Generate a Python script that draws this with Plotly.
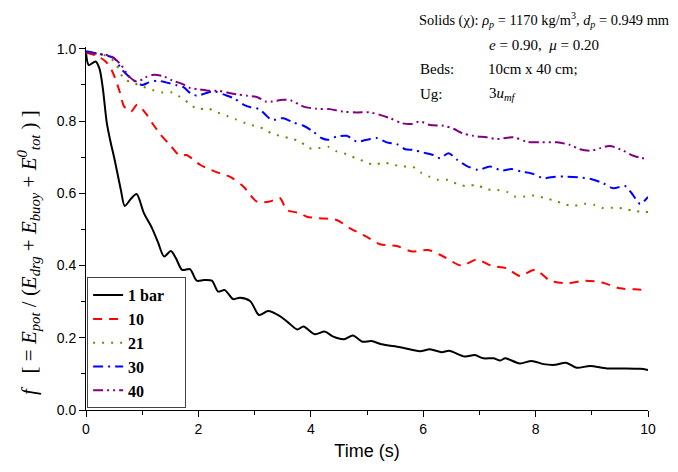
import plotly.graph_objects as go

# ---------------- data ----------------
t_1bar = [0, 0.05, 0.17, 0.24, 0.3, 0.37, 0.44, 0.5, 0.62, 0.69, 0.8, 0.9, 1.03, 1.17, 1.28, 1.39, 1.51, 1.6, 1.71,
          1.85, 1.97, 2.1, 2.24, 2.35, 2.47, 2.62, 2.74, 2.92, 3.08, 3.24, 3.45, 3.6, 3.76, 3.87, 4.07, 4.25,
          4.4, 4.59, 4.75, 4.92, 5.08, 5.26, 5.59, 5.94, 6.12, 6.33, 6.46, 6.74, 6.92, 7.07, 7.25, 7.37, 7.46,
          7.72, 7.93, 8.14, 8.35, 8.54, 8.73, 8.97, 9.27, 9.56, 9.86, 10.0]
f_1bar = [0.99, 0.955, 0.965, 0.945, 0.89, 0.795, 0.74, 0.70, 0.61, 0.565, 0.585, 0.598, 0.545, 0.505, 0.465,
          0.425, 0.44, 0.42, 0.388, 0.39, 0.358, 0.36, 0.358, 0.328, 0.332, 0.307, 0.311, 0.302, 0.263, 0.274,
          0.26, 0.242, 0.223, 0.231, 0.21, 0.217, 0.203, 0.196, 0.206, 0.189, 0.191, 0.182, 0.174, 0.163,
          0.168, 0.16, 0.164, 0.148, 0.152, 0.143, 0.143, 0.137, 0.143, 0.129, 0.136, 0.127, 0.125, 0.131,
          0.117, 0.122, 0.115, 0.115, 0.114, 0.111]

t_10 = [0, 0.2, 0.35, 0.46, 0.59, 0.68, 0.8, 0.91, 1.06, 1.18, 1.33, 1.51, 1.67, 1.79, 2.03, 2.3, 2.56, 2.8,
        3.04, 3.27, 3.45, 3.57, 3.81, 3.93, 4.16, 4.46, 4.7, 4.99, 5.23, 5.53, 5.8, 6.09, 6.36, 6.68, 6.95,
        7.22, 7.49, 7.72, 7.99, 8.26, 8.55, 8.88, 9.18, 9.5, 9.77, 10.0]
f_10 = [0.99, 0.98, 0.965, 0.94, 0.886, 0.84, 0.826, 0.845, 0.822, 0.794, 0.762, 0.731, 0.704, 0.706, 0.679,
        0.66, 0.646, 0.619, 0.577, 0.577, 0.587, 0.554, 0.545, 0.535, 0.531, 0.526, 0.503, 0.48, 0.459, 0.454,
        0.439, 0.443, 0.425, 0.40, 0.416, 0.399, 0.392, 0.371, 0.388, 0.358, 0.351, 0.358, 0.353, 0.337,
        0.334, 0.331]

t_21 = [0, 0.32, 0.5, 0.68, 0.82, 1.0, 1.18, 1.36, 1.54, 1.68, 1.83, 1.98, 2.16, 2.34, 2.51, 2.66, 2.84, 2.99,
        3.17, 3.31, 3.45, 3.63, 3.81, 3.96, 4.13, 4.31, 4.46, 4.64, 4.8, 4.96, 5.12, 5.3, 5.47, 5.63, 5.81,
        5.96, 6.11, 6.27, 6.45, 6.61, 6.77, 6.95, 7.13, 7.31, 7.49, 7.63, 7.81, 7.99, 8.17, 8.34, 8.51, 8.68,
        8.86, 9.04, 9.2, 9.38, 9.56, 9.74, 9.92, 10.0]
f_21 = [0.99, 0.983, 0.965, 0.916, 0.907, 0.896, 0.886, 0.879, 0.879, 0.866, 0.85, 0.833, 0.835, 0.824, 0.814,
        0.805, 0.794, 0.787, 0.778, 0.765, 0.759, 0.752, 0.743, 0.725, 0.725, 0.729, 0.716, 0.708, 0.697,
        0.688, 0.679, 0.685, 0.679, 0.674, 0.674, 0.657, 0.646, 0.637, 0.637, 0.625, 0.62, 0.623, 0.611,
        0.609, 0.604, 0.591, 0.591, 0.594, 0.586, 0.58, 0.57, 0.565, 0.571, 0.568, 0.559, 0.56, 0.558, 0.551,
        0.549, 0.548]

t_30 = [0, 0.32, 0.5, 0.62, 0.73, 0.88, 1.0, 1.12, 1.27, 1.42, 1.6, 1.74, 1.86, 1.98, 2.13, 2.28, 2.46, 2.63,
        2.81, 2.93, 3.08, 3.23, 3.31, 3.51, 3.69, 3.87, 4.04, 4.19, 4.31, 4.46, 4.64, 4.82, 4.99, 5.17, 5.35,
        5.53, 5.68, 5.82, 6.0, 6.18, 6.3, 6.45, 6.6, 6.77, 6.98, 7.19, 7.4, 7.57, 7.75, 7.93, 8.14, 8.35, 8.55,
        8.76, 9.0, 9.2, 9.38, 9.59, 9.71, 9.86, 10.0]
f_30 = [0.993, 0.983, 0.974, 0.946, 0.928, 0.909, 0.9, 0.907, 0.912, 0.907, 0.9, 0.893, 0.877, 0.87, 0.877,
        0.882, 0.873, 0.863, 0.845, 0.838, 0.833, 0.812, 0.803, 0.808, 0.796, 0.787, 0.771, 0.753, 0.748,
        0.757, 0.759, 0.743, 0.748, 0.753, 0.741, 0.736, 0.722, 0.72, 0.713, 0.706, 0.697, 0.711, 0.693,
        0.676, 0.665, 0.674, 0.663, 0.667, 0.66, 0.655, 0.642, 0.646, 0.646, 0.644, 0.639, 0.628, 0.614,
        0.62, 0.6, 0.571, 0.59]

t_40 = [0, 0.2, 0.44, 0.62, 0.77, 0.91, 1.06, 1.21, 1.39, 1.54, 1.71, 1.86, 2.01, 2.19, 2.34, 2.51, 2.69, 2.87,
        3.05, 3.2, 3.31, 3.51, 3.65, 3.87, 4.1, 4.34, 4.58, 4.82, 5.05, 5.23, 5.41, 5.62, 5.8, 5.94, 6.12,
        6.36, 6.55, 6.7, 6.89, 7.13, 7.31, 7.6, 7.84, 8.08, 8.38, 8.61, 8.79, 9.0, 9.15, 9.32, 9.56, 9.74, 10.0]
f_40 = [0.99, 0.986, 0.98, 0.956, 0.923, 0.909, 0.921, 0.928, 0.923, 0.912, 0.903, 0.891, 0.888, 0.884, 0.884,
        0.879, 0.874, 0.87, 0.866, 0.854, 0.854, 0.859, 0.857, 0.84, 0.834, 0.833, 0.826, 0.824, 0.824, 0.817,
        0.808, 0.794, 0.792, 0.799, 0.789, 0.787, 0.778, 0.766, 0.759, 0.755, 0.75, 0.755, 0.743, 0.741,
        0.741, 0.734, 0.722, 0.718, 0.725, 0.731, 0.718, 0.704, 0.694]

series_names = ["1 bar", "10", "21", "30", "40"]
x_ticks = [0, 2, 4, 6, 8, 10]
y_ticks = [0.0, 0.2, 0.4, 0.6, 0.8, 1.0]

# ---------------- figure ----------------
series = [
    (t_1bar, f_1bar, "#000000", "solid"),
    (t_10, f_10, "#ff0000", "9px,7px"),
    (t_21, f_21, "#808000", "2px,7px"),
    (t_30, f_30, "#0000ff", "10px,5px,2px,5px"),
    (t_40, f_40, "#800080", "10px,4px,2px,4px,2px,4px"),
]

fig = go.Figure()
for name, (tx, fy, col, dash) in zip(series_names, series):
    fig.add_trace(go.Scatter(
        x=tx, y=fy, mode="lines", name="<b>%s</b>&nbsp;&nbsp;&nbsp;&nbsp;" % name,
        line=dict(color=col, width=2, dash=dash, shape="spline", smoothing=0.8),
    ))

serif = "Liberation Serif, Times New Roman, serif"
sans = "Liberation Sans, Arial, sans-serif"

fig.update_layout(
    width=678, height=472,
    margin=dict(l=86, r=30, t=47, b=62),
    paper_bgcolor="white", plot_bgcolor="white",
    showlegend=True,
    legend=dict(
        x=0.002, y=0.005, xanchor="left", yanchor="bottom",
        bgcolor="white", bordercolor="#444444", borderwidth=1,
        font=dict(family=serif, size=16, color="black"),
        tracegroupgap=0,
    ),
    xaxis=dict(
        range=[0, 10], showgrid=False, zeroline=False,
        showline=True, linecolor="black", linewidth=1,
        ticks="outside", ticklen=6, tickwidth=1, tickcolor="black",
        tickvals=x_ticks, ticktext=[str(v) for v in x_ticks],
        tickfont=dict(family=sans, size=14, color="black"),
        minor=dict(dtick=1, ticks="outside", ticklen=4, tickcolor="black"),
        title=dict(text="Time (s)", font=dict(family=sans, size=18, color="black"), standoff=8),
    ),
    yaxis=dict(
        range=[0, 1.005], showgrid=False, zeroline=False,
        showline=True, linecolor="black", linewidth=1,
        ticks="outside", ticklen=6, tickwidth=1, tickcolor="black",
        tickvals=y_ticks, ticktext=["%.1f" % v for v in y_ticks],
        tickfont=dict(family=sans, size=14, color="black"),
        minor=dict(dtick=0.1, ticks="outside", ticklen=4, tickcolor="black"),
    ),
)

# y-axis title as rotated annotation
fig.add_annotation(
    xref="paper", yref="paper", x=(29 - 86) / 562, y=(410 - 253) / 363,
    xanchor="center", yanchor="middle", textangle=-90, showarrow=False,
    text="<i>f</i>   [ = <i>E</i><sub><i>pot</i></sub> / (<i>E</i><sub><i>drg</i></sub> + <i>E</i><sub><i>buoy</i></sub> + <i>E</i><sup><i>0</i></sup><sub><i>tot</i></sub> ) ]",
    font=dict(family=serif, size=21, color="black"),
)

# top-right text block (pixel positions converted to paper coords)
def px(xp):
    return (xp - 86) / 562

def py(yp):
    return (410 - yp) / 363

notes = [
    (417, 20, "Solids (χ): <i>ρ</i><sub><i>p</i></sub> = 1170 kg/m<sup>3</sup>, <i>d</i><sub><i>p</i></sub> = 0.949 mm", 14.4),
    (487, 45, "<i>e</i> = 0.90,  <i>μ</i> = 0.20", 15),
    (418, 69, "Beds:", 15),
    (486, 69, "10cm x 40 cm;", 15),
    (418, 94, "Ug:", 15),
    (487, 94, "3<i>u</i><sub><i>mf</i></sub>", 15),
]
for xp, yp, txt, fs in notes:
    fig.add_annotation(
        xref="paper", yref="paper", x=px(xp), y=py(yp),
        xanchor="left", yanchor="middle", showarrow=False, text=txt,
        font=dict(family=serif, size=fs, color="black"),
    )

fig.write_html("out.html")
